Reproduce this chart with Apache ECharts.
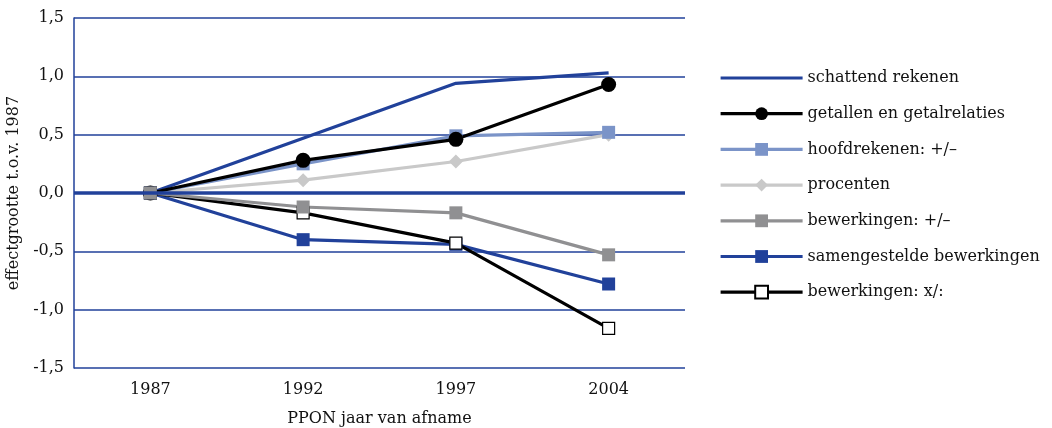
<!DOCTYPE html>
<html><head><meta charset="utf-8">
<script src="https://cdn.jsdelivr.net/npm/echarts@6/dist/echarts.min.js"></script>
<style>html,body{margin:0;padding:0;background:#fff}#c{width:1052px;height:428px}</style>
</head><body><div id="c"></div>
<script>
const categories = ['1987', '1992', '1997', '2004'];
const schattendRekenen = [0, 0.47, 0.94, 1.03];
const getallen = [0, 0.28, 0.46, 0.93];
const hoofdrekenen = [0, 0.25, 0.49, 0.52];
const procenten = [0, 0.11, 0.27, 0.50];
const bewerkingenPlusMin = [0, -0.12, -0.17, -0.53];
const samengesteld = [0, -0.40, -0.44, -0.78];
const bewerkingenMaalDeel = [0, -0.17, -0.43, -1.16];
const yTicks = [-1.5, -1, -0.5, 0, 0.5, 1, 1.5];

const BLUE = '#21419a', LBLUE = '#7b94c8', LGRAY = '#c9c9c9', MGRAY = '#909092';
const FONT = 'DejaVu Serif';
const FS = 16;

function ser(name, data, color, symbol, size, extra) {
  return Object.assign({
    name, type: 'line', data,
    symbol, symbolSize: size, showSymbol: symbol !== 'none',
    lineStyle: { color, width: 3.2 },
    itemStyle: { color, borderWidth: 0 },
    emphasis: { disabled: true },
    animation: false
  }, extra || {});
}

const chart = echarts.init(document.getElementById('c'));
chart.setOption({
  animation: false,
  textStyle: { fontFamily: FONT },
  grid: { left: 74, right: 367, top: 18, bottom: 60, outerBoundsMode: 'none', containLabel: false },
  legend: {
    orient: 'vertical', left: 714, top: 65,
    itemWidth: 82, itemHeight: 16, itemGap: 19.7,
    lineStyle: { width: 3.2 },
    textStyle: { fontFamily: FONT, fontSize: FS, color: '#111' },
    data: [
      { name: 'schattend rekenen', itemStyle: { opacity: 0 } },
      'getallen en getalrelaties', 'hoofdrekenen: +/\u2013', 'procenten',
      'bewerkingen: +/\u2013', 'samengestelde bewerkingen', 'bewerkingen: x/:']
  },
  xAxis: {
    type: 'category', data: categories, boundaryGap: true,
    axisLine: { show: false }, axisTick: { show: false },
    axisLabel: { fontFamily: FONT, fontSize: FS, color: '#111', margin: 14 },
    name: 'PPON jaar van afname', nameLocation: 'middle', nameGap: 43,
    nameTextStyle: { fontFamily: FONT, fontSize: FS, color: '#111' }
  },
  yAxis: {
    type: 'value', min: -1.5, max: 1.5, interval: 0.5,
    axisLine: { show: true, lineStyle: { color: BLUE, width: 1.5 } },
    axisTick: { show: false },
    splitLine: { show: true, lineStyle: { color: BLUE, width: 1.5 } },
    axisLabel: { fontFamily: FONT, fontSize: FS, color: '#111', margin: 10,
      formatter: v => v.toFixed(1).replace('.', ',') },
    name: 'effectgrootte t.o.v. 1987', nameLocation: 'middle', nameGap: 51,
    nameTextStyle: { fontFamily: FONT, fontSize: FS, color: '#111' }
  },
  series: [
    ser('schattend rekenen', schattendRekenen, BLUE, 'none', 0, {
      markLine: { silent: true, symbol: 'none', label: { show: false },
        lineStyle: { color: BLUE, width: 3.5, type: 'solid' },
        data: [{ yAxis: 0 }], animation: false }
    }),
    ser('procenten', procenten, LGRAY, 'diamond', 14),
    ser('hoofdrekenen: +/\u2013', hoofdrekenen, LBLUE, 'rect', 13),
    ser('getallen en getalrelaties', getallen, '#000', 'circle', 15),
    ser('samengestelde bewerkingen', samengesteld, BLUE, 'rect', 13),
    ser('bewerkingen: x/:', bewerkingenMaalDeel, '#000', 'rect', 12, {
      itemStyle: { color: '#fff', borderColor: '#000', borderWidth: 1.2 }
    }),
    ser('bewerkingen: +/\u2013', bewerkingenPlusMin, MGRAY, 'rect', 13)
  ]
});
</script></body></html>
